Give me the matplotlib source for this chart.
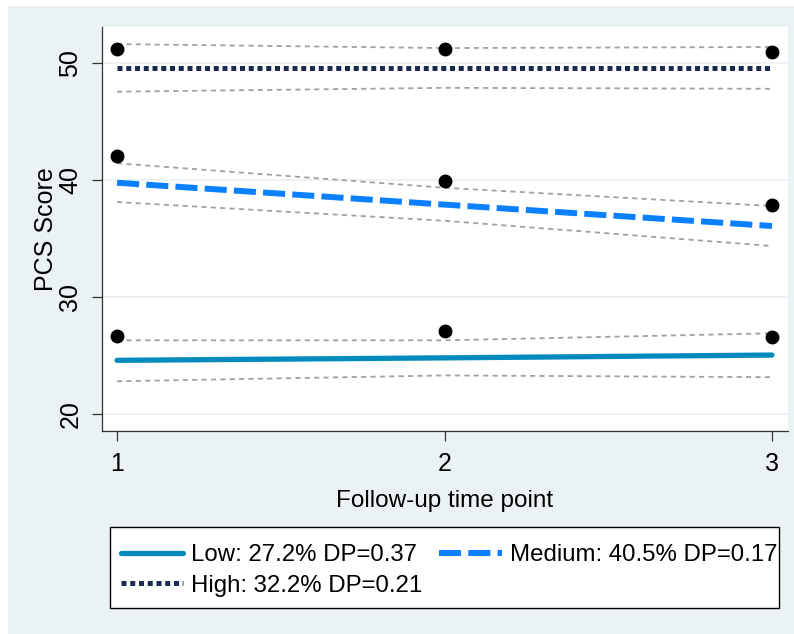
import matplotlib
matplotlib.use("Agg")
import matplotlib.pyplot as plt
from matplotlib.patches import Rectangle

plt.rcParams['font.family'] = ['Liberation Sans', 'DejaVu Sans']

time = [1, 2, 3]
x_ticks = [1, 2, 3]
y_ticks = [20, 30, 40, 50]

low_fit = [24.59, 24.8, 25.04]
low_upper = [26.3, 26.3, 26.9]
low_lower = [22.8, 23.3, 23.15]
low_obs = [26.67, 27.09, 26.58]

med_fit = [39.77, 37.9, 36.07]
med_upper = [41.43, 39.34, 37.78]
med_lower = [38.12, 36.52, 34.36]
med_obs = [42.08, 39.89, 37.86]

high_fit = [49.55, 49.55, 49.55]
high_upper = [51.62, 51.28, 51.37]
high_lower = [47.55, 47.88, 47.8]
high_obs = [51.2, 51.17, 50.97]

labels = ["Low: 27.2% DP=0.37", "Medium: 40.5% DP=0.17", "High: 32.2% DP=0.21"]

W, H = 794, 634
fig = plt.figure(figsize=(W / 100, H / 100), dpi=100, facecolor='white')
bg = '#EAF2F3'
fig.patches.append(Rectangle((8 / W, 0), 1 - 8 / W, 1 - 6 / H, transform=fig.transFigure,
                             facecolor=bg, edgecolor='none', zorder=-10))
# legend frame
fig.patches.append(Rectangle((110 / W, 1 - 608 / H), (779 - 110) / W, (608 - 527) / H,
                             transform=fig.transFigure, facecolor='white',
                             edgecolor='black', lw=1.0, zorder=-5))

ax = fig.add_axes([102 / W, 1 - 431 / H, (788 - 102) / W, (431 - 27) / H])
ax.set_zorder(1)
ax.set_facecolor('white')
ax.set_xlim(0.954, 3.049)
ax.set_ylim(18.55, 53.08)

for yv in y_ticks:
    ax.axhline(yv, color=bg, lw=1.3, zorder=1)

ci_kw = dict(color='#A0A0A0', lw=1.3, dashes=(2.8, 2.4), zorder=2)
for up, lo in [(low_upper, low_lower), (med_upper, med_lower), (high_upper, high_lower)]:
    ax.plot(time, up, **ci_kw)
    ax.plot(time, lo, **ci_kw)

l1, = ax.plot(time, low_fit, color='#008BBC', lw=3.8, solid_capstyle='round', zorder=3)
l2, = ax.plot(time, med_fit, color='#0A80FF', lw=4.3, dashes=(3.7, 1.2),
              dash_capstyle='butt', zorder=3)
l3, = ax.plot(time, high_fit, color='#1C2A52', lw=3.6, dashes=(1.0, 0.75),
              dash_capstyle='butt', zorder=3)

for obs in [low_obs, med_obs, high_obs]:
    ax.plot(time, obs, 'o', color='black', ms=9, zorder=4, clip_on=False)

for s in ['top', 'right']:
    ax.spines[s].set_visible(False)
for s in ['left', 'bottom']:
    ax.spines[s].set_color('#333333')
    ax.spines[s].set_linewidth(0.9)

ax.set_xticks(x_ticks)
ax.set_yticks(y_ticks)
ax.tick_params(axis='both', colors='#333333', labelcolor='black', length=7.2, width=0.9,
               labelsize=18)
ax.tick_params(axis='x', pad=8)
ax.tick_params(axis='y', pad=7, labelrotation=90)
for t in ax.get_yticklabels():
    t.set_va('center')

ax.set_xlabel("Follow-up time point", fontsize=17.5)
ax.set_ylabel("PCS Score", fontsize=18)
ax.xaxis.set_label_coords(0.5, -0.145)
ax.yaxis.set_label_coords(-0.064, 0.5)

leg = fig.legend([l1, l3, l2], [labels[0], labels[2], labels[1]], loc='upper left',
                 bbox_to_anchor=(121 / W, 1 - 544 / H),
                 ncol=2, fontsize=17.3, frameon=False,
                 handlelength=2.6, handletextpad=0.33, borderpad=0,
                 labelspacing=0.36, borderaxespad=0, columnspacing=0.7)
leg.set_zorder(5)

fig.savefig('out.png', dpi=100, facecolor=fig.get_facecolor())
